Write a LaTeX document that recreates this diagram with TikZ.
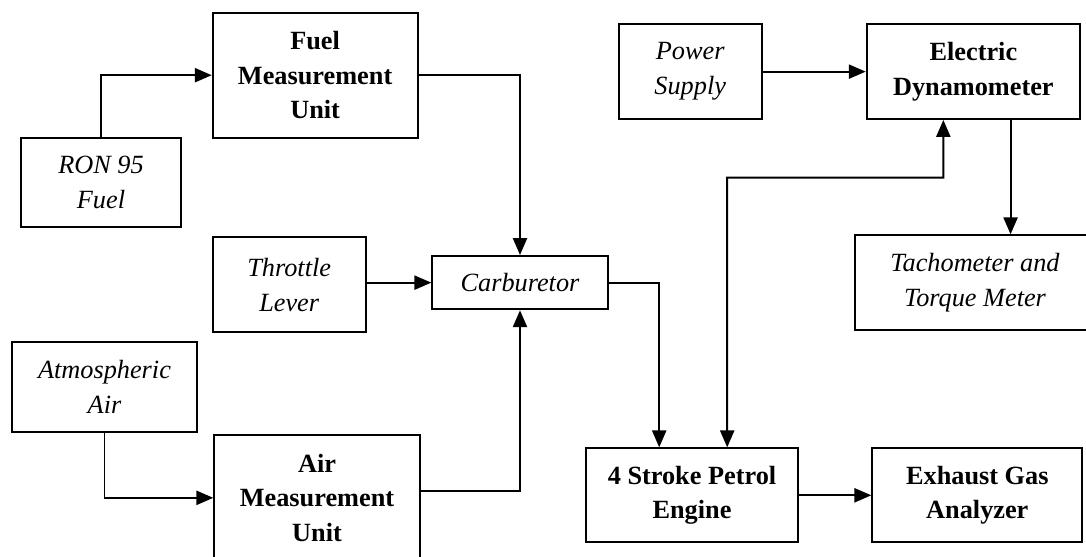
\documentclass[tikz,border=0pt]{standalone}
\usepackage{fontspec}
\setmainfont{Liberation Serif}
\usetikzlibrary{arrows.meta}
\begin{document}
\begin{tikzpicture}
\useasboundingbox (0,0) rectangle (27.15,13.9);
% Block styles
\tikzstyle{unit_box} = [rectangle, draw, line width=1.4pt, text centered, align=center, font=\fontsize{18.7}{24.4}\selectfont\bfseries]
\tikzstyle{input_box} = [rectangle, draw, line width=1.4pt, text centered, align=center, font=\fontsize{18.7}{25}\selectfont\itshape]
\tikzstyle{flow} = [line width=1.4pt, -{Triangle[length=12pt,width=10pt]}]

% Fuel side
\node[unit_box, minimum width=5.12cm, minimum height=3.125cm] (fuelmu) at (7.878,12.02) {Fuel\\Measurement\\Unit};
\node[input_box, minimum width=4.0cm, minimum height=2.24cm] (ron) at (2.525,9.3375) {RON 95\\Fuel};

% Throttle and carburetor
\node[input_box, minimum width=3.825cm, minimum height=2.375cm] (throttle) at (7.23,6.78) {Throttle\\Lever};
\node[input_box, minimum width=4.385cm, minimum height=1.3325cm] (carb) at (13.0,6.834) {Carburetor};

% Air side
\node[input_box, minimum width=4.64cm, minimum height=2.25cm] (atmos) at (2.6125,4.2325) {Atmospheric\\Air};
\node[unit_box, minimum width=5.135cm, minimum height=3.1575cm] (airmu) at (7.925,1.454) {Air\\Measurement\\Unit};

% Dynamometer side
\node[input_box, minimum width=3.575cm, minimum height=2.3675cm] (power) at (17.255,12.109) {Power\\Supply};
\node[unit_box, minimum width=5.333cm, minimum height=2.3675cm] (dyn) at (24.334,12.109) {Electric\\Dynamometer};
\node[input_box, minimum width=6.0cm, minimum height=2.3675cm] (tacho) at (24.375,6.834) {Tachometer and\\Torque Meter};

% Engine and exhaust
\node[unit_box, minimum width=5.315cm, minimum height=2.35cm] (engine) at (17.3,1.5175) {4 Stroke Petrol\\Engine};
\node[unit_box, minimum width=5.25cm, minimum height=2.35cm] (exhaust) at (24.4325,1.5175) {Exhaust Gas\\Analyzer};

\coordinate (shaft) at (23.5825,9.4575);

% Connections
\draw[flow] (ron.north) |- (fuelmu.west);
\draw[flow] (fuelmu.east) -| (carb.north);
\draw[flow] (throttle.east |- carb.west) -- (carb.west);
\draw[flow] (atmos.south) |- (airmu.west);
\draw[flow] ([yshift=5pt]airmu.east) -| (carb.south);
\draw[flow] (carb.east) -| ([xshift=-0.82cm]engine.north);
\draw[flow, {Triangle[length=12pt,width=10pt]}-{Triangle[length=12pt,width=10pt]}] ([xshift=0.88cm]engine.north) |- (shaft) -- ([xshift=-0.75cm]dyn.south);
\draw[flow] (power.east) -- (power.east -| dyn.west);
\draw[flow] ([xshift=0.93cm]dyn.south) -- ([xshift=0.93cm]dyn.south |- tacho.north);
\draw[flow] (engine.east) -- (engine.east -| exhaust.west);
\end{tikzpicture}
\end{document}
